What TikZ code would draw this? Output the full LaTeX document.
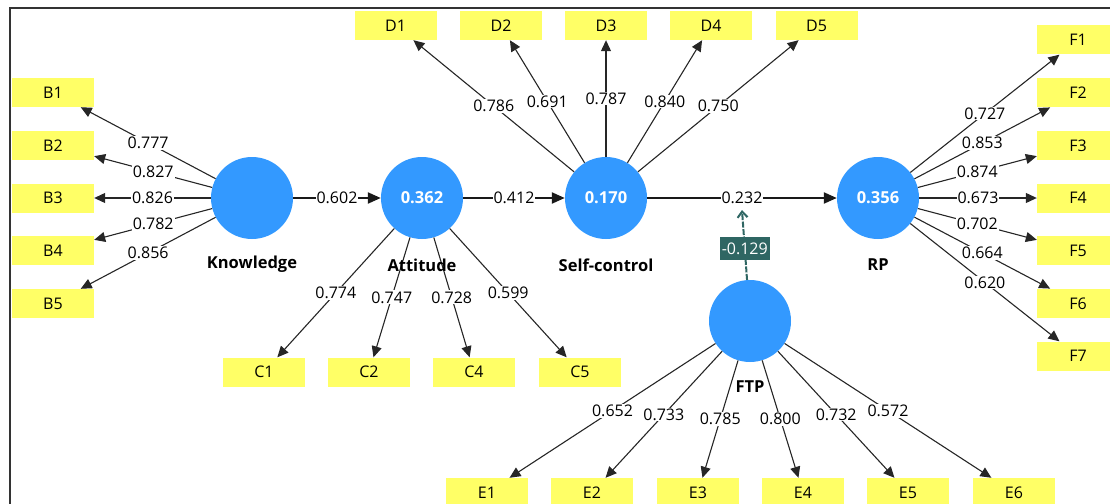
\documentclass[tikz,border=0pt]{standalone}
\usepackage{fontspec}
\setmainfont{Open Sans}
\usetikzlibrary{arrows.meta}
\definecolor{indyellow}{RGB}{255,255,102}
\definecolor{latblue}{RGB}{51,153,255}
\definecolor{modteal}{RGB}{47,102,99}
\newcommand{\lblfont}{\fontsize{16}{18}\selectfont}
\newcommand{\namefont}{\fontsize{16.5}{19}\selectfont\bfseries}
\tikzset{
  ind/.style={fill=indyellow, minimum width=82pt, minimum height=29pt, inner sep=0pt, font=\lblfont},
  lat/.style={circle, fill=latblue, minimum size=82pt, inner sep=0pt, text=white, font=\namefont},
  latname/.style={font=\namefont, inner sep=0pt},
  ld/.style={draw=black!85, line width=1.1pt, -{Triangle[length=11pt,width=10pt]}},
  struct/.style={draw=black!90, line width=2.2pt, -{Triangle[length=13pt,width=11pt]}},
  wl/.style={fill=white, inner sep=1pt, font=\lblfont},
  mod/.style={draw=modteal, line width=2pt, dash pattern=on 6pt off 1.5pt, -{Straight Barb[length=6pt,width=10pt]}},
  modlbl/.style={fill=modteal, text=white, inner sep=2pt, minimum width=50pt, minimum height=23pt, font=\lblfont}
}
\begin{document}
\begin{tikzpicture}[x=1pt,y=-1pt]
\useasboundingbox (0,0) rectangle (1110,503);
\clip (0,0) rectangle (1110,503);
% frame
\draw[line width=2pt, black!80] (10,510) -- (10,8) -- (1120,8);

% latent variables
\node[lat] (K)   at (252,198) {};
\node[lat] (Att) at (422,198) {0.362};
\node[lat] (SC)  at (606,198) {0.170};
\node[lat] (RP)  at (878,198) {0.356};
\node[lat] (FTP) at (750,321) {};

% indicators
\foreach \i/\y in {1/92.5,2/145.25,3/198,4/250.75,5/303.5}
  \node[ind] (B\i) at (53,\y) {B\i};
\foreach \i/\x in {1/395.5,2/501,3/606,4/711,5/816.5}
  \node[ind] (D\i) at (\x,25.5) {D\i};
\foreach \i/\y in {1/40,2/92.7,3/145.3,4/198,5/250.7,6/303.3,7/356}
  \node[ind] (F\i) at (1078,\y) {F\i};
\foreach \i/\x in {1/264,2/369,4/474,5/580}
  \node[ind] (C\i) at (\x,372) {C\i};
\foreach \i/\x in {1/487,2/592,3/698,4/803,5/908,6/1014}
  \node[ind] (E\i) at (\x,492.5) {E\i};

% outer loadings
\foreach \t/\v in {B1/0.777,B2/0.827,B3/0.826,B4/0.782,B5/0.856}
  \draw[ld] (K) -- node[wl] {\v} (\t);
\foreach \t/\v in {C1/0.774,C2/0.747,C4/0.728,C5/0.599}
  \draw[ld] (Att) -- node[wl] {\v} (\t);
\foreach \t/\v in {D1/0.786,D2/0.691,D3/0.787,D4/0.840,D5/0.750}
  \draw[ld] (SC) -- node[wl] {\v} (\t);
\foreach \t/\v in {F1/0.727,F2/0.853,F3/0.874,F4/0.673,F5/0.702,F6/0.664,F7/0.620}
  \draw[ld] (RP) -- node[wl] {\v} (\t);
\foreach \t/\v in {E1/0.652,E2/0.733,E3/0.785,E4/0.800,E5/0.732,E6/0.572}
  \draw[ld] (FTP) -- node[wl] {\v} (\t);

% structural paths
\draw[struct] (K) -- node[wl] {0.602} (Att);
\draw[struct] (Att) -- node[wl] {0.412} (SC);
\draw[struct] (SC) -- node[wl] (p232) {0.232} (RP);

% moderating effect
\coordinate (modend) at (742,210);
\draw[mod] (FTP) -- node[modlbl, pos=0.45] {-0.129} (modend);

% construct names
\node[latname] (nK)   at (252,264) {Knowledge};
\node[latname] (nAtt) at (422,265) {Attitude};
\node[latname] (nSC)  at (606,265) {Self-control};
\node[latname] (nRP)  at (878,265) {RP};
\node[latname] (nFTP) at (750,387) {FTP};
\end{tikzpicture}
\end{document}
